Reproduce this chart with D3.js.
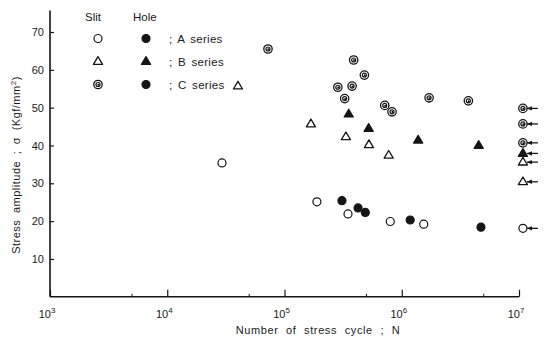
<!DOCTYPE html>
<html>
<head>
<meta charset="utf-8">
<script src="https://cdn.jsdelivr.net/npm/d3@7"></script>
<style>
  html, body { margin: 0; padding: 0; background: #fff; }
  svg { display: block; font-family: "Liberation Sans", "DejaVu Sans", sans-serif; }
  text { fill: #1a1a1a; }
</style>
</head>
<body>
<svg id="chart" width="544" height="341"></svg>
<script>
// Fatigue test results: stress amplitude vs. number of stress cycles
// N = number of cycles, s = stress amplitude (kgf/mm^2)
const slitA = [[2.93e4, 35.4], [1.89e5, 25.1], [3.48e5, 21.9], [7.98e5, 19.9], [1.54e6, 19.2]];
const holeA = [[3.09e5, 25.4], [4.24e5, 23.5], [4.89e5, 22.3], [1.18e6, 20.3], [4.74e6, 18.4]];
const slitB = [[4.01e4, 55.7], [1.68e5, 45.7], [3.34e5, 42.3], [5.25e5, 40.2], [7.74e5, 37.4]];
const holeB = [[3.53e5, 48.3], [5.22e5, 44.5], [1.38e6, 41.4], [4.53e6, 40.0]];
const slitC = [[7.23e4, 65.5], [3.89e5, 62.6], [4.80e5, 58.6], [2.85e5, 55.4], [3.77e5, 55.7],
               [3.26e5, 52.4], [7.16e5, 50.6], [8.26e5, 48.9], [1.71e6, 52.6], [3.70e6, 51.8]];

// Unbroken specimens (run-outs) stopped at about 1e7 cycles
const runoutN = 1.08e7;
const runoutSymbols = ["slitC", "slitC", "slitC", "holeB", "slitB", "slitB", "slitA"];
const runoutStress  = [49.8, 45.7, 40.7, 37.9, 35.6, 30.4, 18.1];

const yTicks = [10, 20, 30, 40, 50, 60, 70];
const xMajor = [1e3, 1e4, 1e5, 1e6, 1e7];
const xMinor = [5e3, 5e4, 5e5, 5e6];
const xExponents = ["3", "4", "5", "6", "7"];

const legendRows = ["; A series", "; B series", "; C series"];
const legendSlit = ["slitA", "slitB", "slitC"];
const legendHole = ["holeA", "holeB", "holeA"];

const svg = d3.select("#chart");
const x = d3.scaleLog().domain([1e3, 1e7]).range([50, 519]);
const y = d3.scaleLinear().domain([0, 70]).range([296.8, 32]);
const ink = "#151515";

// ---- axes ----
const yAxis = d3.axisLeft(y).tickValues(yTicks).tickSize(-4).tickPadding(6).tickFormat(d3.format("d"));
const gy = svg.append("g").attr("transform", "translate(50,0)").call(yAxis);
gy.select(".domain").remove();
gy.selectAll(".tick line").attr("stroke", ink).attr("stroke-width", 1.2);
gy.selectAll(".tick text").attr("font-size", 11).attr("fill", "#1a1a1a").attr("font-family", "Liberation Sans, sans-serif");
svg.append("line").attr("x1", 50).attr("x2", 50).attr("y1", y(75.7)).attr("y2", y(0))
  .attr("stroke", ink).attr("stroke-width", 1.6);

const xAxis = d3.axisBottom(x).tickValues(xMajor).tickSize(-7).tickFormat("");
const gx = svg.append("g").attr("transform", `translate(0,${y(0)})`).call(xAxis);
gx.select(".domain").remove();
gx.selectAll(".tick line").attr("stroke", ink).attr("stroke-width", 1.2);
svg.append("line").attr("x1", 50).attr("x2", x(1e7)).attr("y1", y(0)).attr("y2", y(0))
  .attr("stroke", ink).attr("stroke-width", 1.6);
svg.selectAll(".minor").data(xMinor).enter().append("line")
  .attr("x1", d => x(d)).attr("x2", d => x(d)).attr("y1", y(0)).attr("y2", y(0) - 3)
  .attr("stroke", ink).attr("stroke-width", 1);

const xl = svg.selectAll(".xlab").data(xMajor).enter().append("text")
  .attr("x", d => x(d) - 3).attr("y", 318).attr("text-anchor", "middle").attr("font-size", 11);
xl.append("tspan").text("10");
xl.append("tspan").attr("font-size", 8).attr("dy", -5).text((d, i) => xExponents[i]);

// axis titles
svg.append("text").attr("x", 318).attr("y", 334).attr("text-anchor", "middle")
  .attr("font-size", 11).attr("letter-spacing", 0.6).attr("word-spacing", 4)
  .text("Number of stress cycle ; N");
const yt = svg.append("text").attr("transform", "translate(20,165) rotate(-90)")
  .attr("text-anchor", "middle").attr("font-size", 11).attr("letter-spacing", 0.5).attr("word-spacing", 3);
yt.append("tspan").text("Stress amplitude ; σ (Kgf/mm");
yt.append("tspan").attr("font-size", 8).attr("dy", -4).text("2");
yt.append("tspan").attr("dy", 4).text(")");

// ---- symbols ----
function drawSymbol(g, type, cx, cy) {
  if (type === "slitA" || type === "holeA") {
    g.append("circle").attr("cx", cx).attr("cy", cy).attr("r", 4)
      .attr("fill", type === "holeA" ? ink : "#fff").attr("stroke", ink).attr("stroke-width", 1.2);
  } else if (type === "slitB" || type === "holeB") {
    const r = 4.8;
    const pts = [[cx, cy - r], [cx + r * 0.95, cy + r * 0.6], [cx - r * 0.95, cy + r * 0.6]];
    g.append("polygon").attr("points", pts.map(p => p.join(",")).join(" "))
      .attr("fill", type === "holeB" ? ink : "#fff").attr("stroke", ink).attr("stroke-width", 1.3)
      .attr("stroke-linejoin", "round");
  } else if (type === "slitC") {
    g.append("circle").attr("cx", cx).attr("cy", cy).attr("r", 4.2)
      .attr("fill", "#fff").attr("stroke", ink).attr("stroke-width", 1.3);
    g.append("circle").attr("cx", cx).attr("cy", cy).attr("r", 2)
      .attr("fill", "none").attr("stroke", ink).attr("stroke-width", 1.2);
    g.append("circle").attr("cx", cx + 0.4).attr("cy", cy + 0.3).attr("r", 1)
      .attr("fill", ink);
  }
}

const marks = svg.append("g");
const series = [["slitA", slitA], ["holeA", holeA], ["slitB", slitB], ["holeB", holeB], ["slitC", slitC]];
series.forEach(([type, data]) => {
  data.forEach(([n, s]) => drawSymbol(marks, type, x(n), y(s)));
});

// run-outs with arrows
runoutStress.forEach((s, i) => {
  const cx = x(runoutN), cy = y(s);
  drawSymbol(marks, runoutSymbols[i], cx, cy);
  marks.append("line").attr("x1", cx + 4).attr("x2", cx + 15).attr("y1", cy).attr("y2", cy)
    .attr("stroke", ink).attr("stroke-width", 1.3);
  marks.append("polygon")
    .attr("points", `${cx + 4},${cy} ${cx + 9},${cy - 2.2} ${cx + 9},${cy + 2.2}`)
    .attr("fill", ink);
});

// ---- legend ----
const leg = svg.append("g");
leg.append("text").attr("x", 85).attr("y", 21).attr("font-size", 11.5).text("Slit");
leg.append("text").attr("x", 133).attr("y", 21).attr("font-size", 11.5).text("Hole");
legendRows.forEach((label, i) => {
  const ry = 38.5 + i * 23;
  drawSymbol(leg, legendSlit[i], 98, ry);
  drawSymbol(leg, legendHole[i], 146, ry);
  leg.append("text").attr("x", 169).attr("y", ry + 4).attr("font-size", 11.5)
    .attr("letter-spacing", 0.3).attr("word-spacing", 2).text(label);
});
</script>
</body>
</html>
